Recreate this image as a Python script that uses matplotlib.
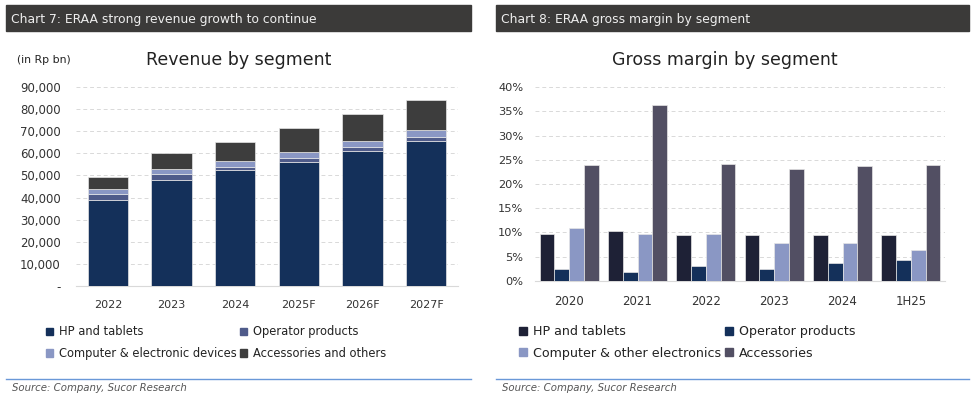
import matplotlib
matplotlib.use("Agg")
import matplotlib.pyplot as plt
import numpy as np
from matplotlib.patches import Rectangle, Patch
from matplotlib.lines import Line2D
from matplotlib.ticker import FuncFormatter

plt.rcParams["font.family"] = ["DejaVu Sans"]

# ---- datos: ingresos por segmento (Rp bn) ----
years_rev = ["2022", "2023", "2024", "2025F", "2026F", "2027F"]
rev_hp = [38700, 48000, 52500, 56300, 61100, 65700]
rev_operator = [2900, 2600, 1500, 1700, 1700, 1700]
rev_computer = [2300, 2400, 2400, 2700, 2900, 3300]
rev_accessories = [5600, 7000, 8600, 10900, 12200, 13600]
rev_labels = ["HP and tablets", "Operator products",
              "Computer & electronic devices", "Accessories and others"]
rev_ticks = [0, 10000, 20000, 30000, 40000, 50000, 60000, 70000, 80000, 90000]

# ---- datos: margen bruto por segmento (%) ----
years_gm = ["2020", "2021", "2022", "2023", "2024", "1H25"]
gm_hp = [9.7, 10.3, 9.4, 9.5, 9.5, 9.4]
gm_operator = [2.5, 1.9, 3.0, 2.5, 3.7, 4.3]
gm_computer = [10.8, 9.6, 9.7, 7.7, 7.8, 6.3]
gm_accessories = [23.9, 36.3, 24.1, 23.0, 23.7, 24.0]
gm_labels = ["HP and tablets", "Operator products",
             "Computer & other electronics", "Accessories"]
gm_ticks = [0, 5, 10, 15, 20, 25, 30, 35, 40]

W, H = 975, 399
fig = plt.figure(figsize=(W / 100, H / 100), dpi=100)


def px_axes(x0, y0, x1, y1):
    # coordenadas en pixeles (origen arriba a la izquierda)
    return fig.add_axes([x0 / W, 1 - y1 / H, (x1 - x0) / W, (y1 - y0) / H])


GRID = "#d9d9d9"

# ---- encabezados y pies ----
for x0, x1, title in [(6, 471, "Chart 7: ERAA strong revenue growth to continue"),
                      (496, 969, "Chart 8: ERAA gross margin by segment")]:
    fig.patches.append(Rectangle((x0 / W, 1 - 31 / H), (x1 - x0) / W, 26 / H,
                                 transform=fig.transFigure, color="#3b3a39"))
    fig.text((x0 + 5) / W, 1 - 19 / H, title, color="#eeeeee", fontsize=8.9,
             va="center", ha="left")
    fig.lines.append(Line2D([x0 / W, x1 / W], [1 - 379 / H, 1 - 379 / H],
                            transform=fig.transFigure, color="#6a98d8", lw=1))
    fig.text((x0 + 6) / W, 1 - 388 / H, "Source: Company, Sucor Research",
             color="#555555", fontsize=7.3, style="italic", va="center")

# ---- grafico 1: ingresos apilados ----
ax1 = px_axes(76, 87, 458, 286)
x = np.arange(len(years_rev))
colores_rev = ["#14305a", "#4f5b8a", "#8a97c4", "#3d3d3d"]
series_rev = [rev_hp, rev_operator, rev_computer, rev_accessories]
base = np.zeros(len(years_rev))
for serie, col in zip(series_rev, colores_rev):
    ax1.bar(x, serie, 0.63, bottom=base, color=col, edgecolor="#e6e6e6",
            linewidth=0.5, zorder=3)
    base += np.array(serie)
ax1.set_xlim(-0.5, len(years_rev) - 0.5)
ax1.set_ylim(0, 90000)
ax1.set_yticks(rev_ticks)
ax1.yaxis.set_major_formatter(FuncFormatter(lambda v, p: "-" if v == 0 else f"{int(v):,}"))
ax1.set_xticks(x)
ax1.set_xticklabels(years_rev)
ax1.tick_params(axis="y", pad=11, labelsize=8.5)
ax1.tick_params(axis="x", labelsize=8)
fig.text(239 / W, 1 - 60 / H, "Revenue by segment", fontsize=12.5, color="#222222",
         ha="center", va="center")
fig.text(17 / W, 1 - 60 / H, "(in Rp bn)", fontsize=7.8, color="#222222",
         ha="left", va="center")
handles1 = [Patch(color=c, label=l) for c, l in zip(colores_rev, rev_labels)]
orden = [0, 2, 1, 3]
fig.legend([handles1[i] for i in orden], [rev_labels[i] for i in orden], ncol=2,
           loc="upper left", bbox_to_anchor=(36 / W, 1 - 315 / H), frameon=False,
           fontsize=8.3, handlelength=0.6, handleheight=0.6, handletextpad=0.5,
           columnspacing=0.3, labelspacing=0.75, labelcolor="#222222")

# ---- grafico 2: margen bruto agrupado ----
ax2 = px_axes(535, 87.3, 945, 280.7)
x2 = np.arange(len(years_gm))
colores_gm = ["#1e2136", "#14305a", "#8a97c4", "#524f63"]
series_gm = [gm_hp, gm_operator, gm_computer, gm_accessories]
ancho = 0.215
for i, (serie, col) in enumerate(zip(series_gm, colores_gm)):
    ax2.bar(x2 + (i - 1.5) * ancho, serie, ancho, color=col, edgecolor="#e6e6e6",
            linewidth=0.5, zorder=3)
ax2.set_xlim(-0.5, len(years_gm) - 0.5)
ax2.set_ylim(0, 40)
ax2.set_yticks(gm_ticks)
ax2.yaxis.set_major_formatter(FuncFormatter(lambda v, p: f"{int(v)}%"))
ax2.set_xticks(x2)
ax2.set_xticklabels(years_gm)
ax2.tick_params(axis="y", pad=8.5, labelsize=8.2)
ax2.tick_params(axis="x", labelsize=8.5)
fig.text(725 / W, 1 - 60 / H, "Gross margin by segment", fontsize=12.5, color="#222222",
         ha="center", va="center")
handles2 = [Patch(color=c, label=l) for c, l in zip(colores_gm, gm_labels)]
fig.legend([handles2[i] for i in orden], [gm_labels[i] for i in orden], ncol=2,
           loc="upper left", bbox_to_anchor=(508 / W, 1 - 314 / H), frameon=False,
           fontsize=9.1, handlelength=0.6, handleheight=0.6, handletextpad=0.5,
           columnspacing=0.3, labelspacing=0.65, labelcolor="#222222")

for ax in (ax1, ax2):
    for lado in ("top", "right", "left"):
        ax.spines[lado].set_visible(False)
    ax.spines["bottom"].set_color(GRID)
    ax.grid(axis="y", color=GRID, linestyle=(0, (4, 3)), lw=0.7, zorder=0)
    ax.tick_params(length=0, colors="#333333")
    ax.tick_params(axis="x", pad=10)

fig.savefig("out.png", dpi=100)
